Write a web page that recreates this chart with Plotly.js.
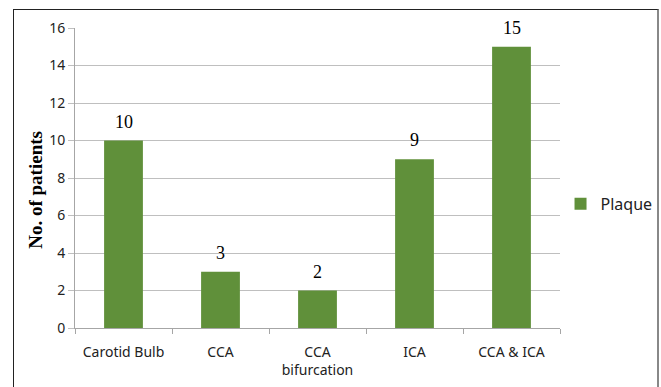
<!DOCTYPE html>
<html>
<head>
<meta charset="utf-8">
<script src="https://cdn.plot.ly/plotly-3.0.1.min.js"></script>
<style>
  html, body { margin: 0; padding: 0; background: #ffffff; }
  #wrap { position: relative; width: 661px; height: 387px; overflow: hidden; }
  #frame { position: absolute; left: 13px; top: 9px; width: 643px; height: 400px;
           border-left: 1px solid #222; border-top: 1px solid #222; border-right: 2px solid #888; }
  #chart { position: absolute; left: 0; top: 0; width: 661px; height: 387px; }
</style>
</head>
<body>
<div id="wrap">
  <div id="chart"></div>
  <div id="frame"></div>
</div>
<script>
// Plaque location counts
const categories = ["Carotid Bulb", "CCA", "CCA<br>bifurcation", "ICA", "CCA & ICA"];
const plaqueCounts = [10, 3, 2, 9, 15];
const seriesName = "Plaque";
const yTicks = [0, 2, 4, 6, 8, 10, 12, 14, 16];
const yTitle = "No. of patients";

const serif = "Liberation Serif, Times New Roman, serif";
const sans = "Noto Sans, Open Sans, sans-serif";

const trace = {
  type: "bar",
  x: categories,
  y: plaqueCounts,
  name: seriesName,
  width: 0.4,
  marker: { color: "#60903a" },
  showlegend: true,
  hoverinfo: "x+y"
};

// value labels sitting above each bar
const valueLabels = categories.map((c, i) => ({
  x: c,
  y: plaqueCounts[i],
  xref: "x",
  yref: "y",
  text: String(plaqueCounts[i]),
  showarrow: false,
  yanchor: "bottom",
  yshift: 7,
  font: { family: serif, size: 18, color: "#000" }
}));

const titleNote = {
  text: "<b>" + yTitle + "</b>",
  xref: "paper",
  yref: "paper",
  x: -0.083,
  y: 0.46,
  xanchor: "center",
  yanchor: "middle",
  textangle: -90,
  showarrow: false,
  font: { family: serif, size: 19, color: "#000" }
};

const layout = {
  width: 661,
  height: 387,
  margin: { l: 75, r: 101, t: 28, b: 59 },
  paper_bgcolor: "rgba(0,0,0,0)",
  plot_bgcolor: "#ffffff",
  font: { family: sans, size: 14, color: "#222" },
  xaxis: {
    type: "category",
    showgrid: false,
    showline: true,
    linecolor: "#a6a6a6",
    linewidth: 1,
    ticks: "outside",
    tickson: "boundaries",
    ticklen: 5,
    tickcolor: "#a6a6a6",
    ticklabelstandoff: 11,
    tickfont: { family: sans, size: 14, color: "#222" },
    zeroline: false,
    automargin: false
  },
  yaxis: {
    range: [0, 16],
    tickvals: yTicks,
    ticktext: yTicks.map(String),
    showgrid: true,
    gridcolor: "#bfbfbf",
    gridwidth: 1,
    showline: true,
    linecolor: "#a6a6a6",
    ticks: "outside",
    ticklen: 6,
    tickcolor: "#bfbfbf",
    zeroline: false,
    automargin: false,
    tickfont: { family: sans, size: 14, color: "#222" }
  },
  annotations: valueLabels.concat([titleNote]),
  legend: {
    xref: "container",
    yref: "container",
    x: 0.848,
    y: 0.473,
    xanchor: "left",
    yanchor: "middle",
    font: { family: sans, size: 16, color: "#222" },
    bgcolor: "rgba(0,0,0,0)",
    itemwidth: 30
  }
};

Plotly.newPlot("chart", [trace], layout, { displayModeBar: false, staticPlot: true });
</script>
</body>
</html>
